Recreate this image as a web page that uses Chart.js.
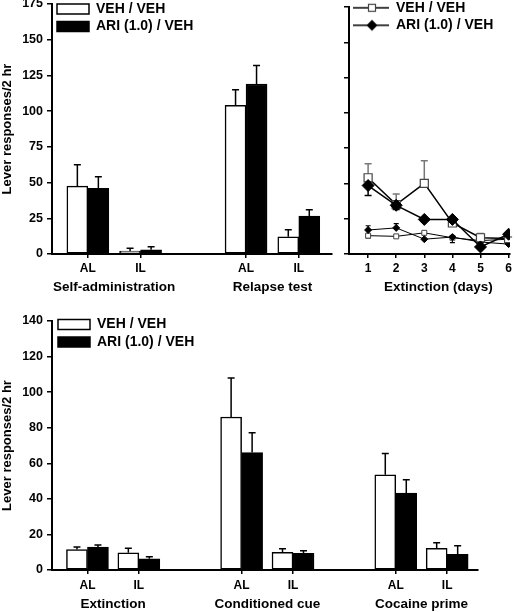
<!DOCTYPE html>
<html>
<head>
<meta charset="utf-8">
<title>Lever responses</title>
<script src="https://cdn.jsdelivr.net/npm/chart.js@4.4.1/dist/chart.umd.min.js"></script>
<style>
  body { margin: 0; background: #fff; }
  #wrap { position: relative; width: 517px; height: 612px; overflow: hidden; }
  canvas { position: absolute; }
</style>
</head>
<body>
<div id="wrap">
  <canvas id="topBars" width="340" height="300" style="left:0;top:0"></canvas>
  <canvas id="extLines" width="182" height="300" style="left:335px;top:0"></canvas>
  <canvas id="bottomBars" width="517" height="312" style="left:0;top:300px"></canvas>
</div>
<script>
// top left: self-administration and relapse test ('' = gap between groups)
const topCats = ['AL', 'IL', '', 'AL', 'IL'];
const topGroups = ['Self-administration', 'Relapse test'];
const topVeh = [47.5, 2, null, 104, 12];
const topVehErr = [15, 2, null, 11, 5];
const topAri = [46, 3, null, 119, 26.5];
const topAriErr = [8, 2, null, 13, 4.5];

// top right: extinction days (negative error = drawn downward)
const days = [1, 2, 3, 4, 5, 6];
const vehAL = [54, 35, 50, 22, 11.5, 11];
const vehALErr = [10, 7.5, 16, 2, 3, 1];
const ariAL = [48.5, 34.5, 24.5, 24.5, 5, 14];
const ariALErr = [-7, -3, 0, 0, 0, 0];
const vehIL = [13, 12.5, 15, 11.5, 9.5, 10.5];
const vehILErr = [-2, 0, 0, 0, 0, 0];
const ariIL = [17, 18.5, 10.5, 12, 8.5, 7];
const ariILErr = [3, 3, 0, -4, 0, 0];

// bottom: reinstatement tests
const botCats = ['AL', 'IL', '', 'AL', 'IL', '', 'AL', 'IL'];
const botGroups = ['Extinction', 'Conditioned cue', 'Cocaine prime'];
const botVeh = [11.5, 9.7, null, 86, 9.9, null, 53.5, 12.2];
const botVehErr = [1.5, 2.5, null, 22, 2, null, 12, 3.1];
const botAri = [12.9, 6.3, null, 66, 9.4, null, 43.2, 8.8];
const botAriErr = [1.2, 1.2, null, 11.2, 1.4, null, 7.5, 4.8];

Chart.defaults.font.family = '"Liberation Sans", Arial, Helvetica, sans-serif';
Chart.defaults.font.weight = 'bold';
Chart.defaults.color = '#000';

function tickPositions(cats) {
    return cats.map((c, i) => c ? i + 1 : null).filter(v => v !== null);
}
function groupCentres(cats) {
    let out = [], run = [];
    cats.concat(['']).forEach((c, i) => {
        if (c) run.push(i + 1);
        else if (run.length) { out.push(run.reduce((a, b) => a + b) / run.length); run = []; }
    });
    return out;
}

// error bars, drawn under the marks
const errorBars = {
    id: 'errorBars',
    beforeDatasetsDraw(chart) {
        const ctx = chart.ctx, ys = chart.scales.y;
        chart.data.datasets.forEach((ds, di) => {
            if (!ds.errors) return;
            const meta = chart.getDatasetMeta(di);
            ctx.save();
            ctx.strokeStyle = ds.errorColor || '#000';
            ctx.lineWidth = ds.errorWidth || 1.5;
            meta.data.forEach((el, i) => {
                const pt = ds.data[i], e = ds.errors[i];
                if (!pt || pt.y == null || !e) return;
                const y0 = ys.getPixelForValue(pt.y);
                const y1 = ys.getPixelForValue(pt.y + e);
                const cap = ds.capWidth || 3.5;
                ctx.beginPath();
                ctx.moveTo(el.x, y0); ctx.lineTo(el.x, y1);
                ctx.moveTo(el.x - cap, y1); ctx.lineTo(el.x + cap, y1);
                ctx.stroke();
            });
            ctx.restore();
        });
    }
};

// legend in the plot area starts at the canvas top, so place it by hand
const legendNudge = {
    id: 'legendNudge',
    afterLayout(chart, args, opts) {
        if (!chart.legend) return;
        chart.legend.top = opts.top;
        chart.legend.left += opts.x || 0;
    }
};

const axisGrid = { drawOnChartArea: false, drawTicks: true, offset: false, color: '#000', lineWidth: 1.5 };
const axisBorder = { display: true, color: '#000', width: 2 };

function barChart(id, cats, groups, veh, vehErr, ari, ariErr, o) {
    const pts = arr => arr.map((v, i) => ({ x: i + 1, y: v }));
    return new Chart(document.getElementById(id), {
        type: 'bar',
        data: {
            datasets: [
                { label: 'VEH / VEH', data: pts(veh), errors: vehErr, xAxisID: 'x',
                  backgroundColor: '#fff', borderColor: '#000', borderWidth: 1.5, borderSkipped: false, barThickness: 21 },
                { label: 'ARI (1.0) / VEH', data: pts(ari), errors: ariErr, xAxisID: 'x',
                  backgroundColor: '#000', borderColor: '#000', borderWidth: 1.5, borderSkipped: false, barThickness: 21 }
            ]
        },
        options: {
            responsive: false,
            animation: false,
            layout: { padding: o.padding },
            plugins: {
                legend: { position: 'chartArea', align: 'start',
                    labels: { boxWidth: 32, boxHeight: 10, padding: 3.5, color: '#000', font: { size: 14, weight: 'bold' } } },
                tooltip: { enabled: false },
                legendNudge: o.nudge
            },
            scales: {
                x: {
                    type: 'linear', offset: false, min: o.xMin, max: o.xMax,
                    afterBuildTicks: s => { s.ticks = tickPositions(cats).map(v => ({ value: v })); },
                    ticks: { callback: v => cats[v - 1], padding: o.tickPad, autoSkip: false, maxRotation: 0,
                             font: { size: 12, weight: 'bold' } },
                    grid: Object.assign({ tickLength: 4 }, axisGrid),
                    border: axisBorder,
                    afterFit: s => { s.height = 20; s.paddingLeft = 0; s.paddingRight = 0; }
                },
                groups: {
                    type: 'linear', offset: false, position: 'bottom', weight: 1, min: o.xMin, max: o.xMax,
                    afterBuildTicks: s => { s.ticks = groupCentres(cats).map(v => ({ value: v })); },
                    ticks: { callback: (v, i) => groups[i], padding: o.groupPad, autoSkip: false, maxRotation: 0,
                             font: { size: 13.5, weight: 'bold' } },
                    grid: { display: false },
                    border: { display: false },
                    afterFit: s => { s.height = o.groupHeight; s.paddingLeft = 0; s.paddingRight = 0; }
                },
                y: {
                    min: 0, max: o.yMax,
                    ticks: { stepSize: o.yStep, padding: 4, font: { size: 12.5, weight: 'bold' } },
                    grid: Object.assign({ tickLength: 5 }, axisGrid),
                    border: axisBorder,
                    title: { display: true, text: 'Lever responses/2 hr', padding: 0, font: { size: 13, weight: 'bold' } },
                    afterFit: s => { s.width = 52; s.paddingTop = 0; s.paddingBottom = 0; }
                }
            }
        },
        plugins: [errorBars, legendNudge]
    });
}

barChart('topBars', topCats, topGroups, topVeh, topVehErr, topAri, topAriErr, {
    padding: { top: 4, left: 0, right: 8, bottom: 0 },
    xMin: 0.32, xMax: 5.63, yMax: 175, yStep: 25,
    tickPad: 3.8, groupPad: -3.1, groupHeight: 26,
    nudge: { x: 1.5, top: -1.5 }
});

barChart('bottomBars', botCats, botGroups, botVeh, botVehErr, botAri, botAriErr, {
    padding: { top: 21, left: 0, right: 39, bottom: 0 },
    xMin: 0.31, xMax: 8.6, yMax: 140, yStep: 20,
    tickPad: 4.8, groupPad: -1.6, groupHeight: 22,
    nudge: { x: 2.5, top: 14 }
});

// legend icons: line through the marker
function makeIcon(shape) {
    const c = document.createElement('canvas');
    c.width = 36; c.height = 14;
    const g = c.getContext('2d');
    g.strokeStyle = '#000'; g.lineWidth = 1.5;
    g.beginPath(); g.moveTo(0, 7); g.lineTo(36, 7); g.stroke();
    if (shape === 'square') {
        g.fillStyle = '#fff'; g.fillRect(15.5, 3.5, 7, 7);
        g.strokeStyle = '#444'; g.lineWidth = 1.2; g.strokeRect(15.5, 3.5, 7, 7);
    } else {
        g.fillStyle = '#000';
        g.beginPath(); g.moveTo(19, 1.5); g.lineTo(24.5, 7); g.lineTo(19, 12.5); g.lineTo(13.5, 7); g.closePath(); g.fill();
    }
    return c;
}
const legendIcons = [makeIcon('square'), makeIcon('diamond')];

const linePts = arr => days.map((d, i) => ({ x: d, y: arr[i] }));
new Chart(document.getElementById('extLines'), {
    type: 'line',
    data: {
        datasets: [
            { label: 'VEH / VEH', data: linePts(vehAL), errors: vehALErr, errorColor: '#777', order: 1,
              borderColor: '#000', borderWidth: 1.5, pointStyle: 'rect', pointRadius: 5.7,
              pointBackgroundColor: '#fff', pointBorderColor: '#444', pointBorderWidth: 1.2 },
            { label: 'ARI (1.0) / VEH', data: linePts(ariAL), errors: ariALErr, order: 0,
              borderColor: '#000', borderWidth: 1.5, pointStyle: 'rectRot', pointRadius: 6,
              pointBackgroundColor: '#000', pointBorderColor: '#000', pointBorderWidth: 1 },
            { label: 'VEH / VEH IL', data: linePts(vehIL), errors: vehILErr, errorColor: '#777', errorWidth: 1.2, capWidth: 2.5, order: 3,
              borderColor: '#000', borderWidth: 1, pointStyle: 'rect', pointRadius: 3.5,
              pointBackgroundColor: '#fff', pointBorderColor: '#444', pointBorderWidth: 1 },
            { label: 'ARI (1.0) / VEH IL', data: linePts(ariIL), errors: ariILErr, errorWidth: 1.2, capWidth: 2.5, order: 2,
              borderColor: '#000', borderWidth: 1, pointStyle: 'rectRot', pointRadius: 3.5,
              pointBackgroundColor: '#000', pointBorderColor: '#000', pointBorderWidth: 1 }
        ]
    },
    options: {
        responsive: false,
        animation: false,
        elements: { line: { tension: 0 } },
        layout: { padding: { top: 4, left: 0, right: 5, bottom: 0 } },
        plugins: {
            legend: {
                position: 'chartArea', align: 'start',
                labels: {
                    usePointStyle: true, pointStyleWidth: 36, padding: 3.5, color: '#000',
                    font: { size: 14, weight: 'bold' },
                    filter: item => item.datasetIndex < 2,
                    sort: (a, b) => a.datasetIndex - b.datasetIndex,
                    generateLabels(chart) {
                        const items = Chart.defaults.plugins.legend.labels.generateLabels(chart);
                        items.forEach(it => { if (legendIcons[it.datasetIndex]) it.pointStyle = legendIcons[it.datasetIndex]; });
                        return items;
                    }
                }
            },
            tooltip: { enabled: false },
            legendNudge: { x: 0.5, top: -2.7 }
        },
        scales: {
            x: {
                type: 'linear', offset: false, min: 0.32, max: 6.05,
                afterBuildTicks: s => { s.ticks = days.map(v => ({ value: v })); },
                ticks: { padding: 3.8, autoSkip: false, maxRotation: 0, font: { size: 12, weight: 'bold' } },
                grid: Object.assign({ tickLength: 4 }, axisGrid),
                border: axisBorder,
                afterFit: s => { s.height = 20; s.paddingLeft = 0; s.paddingRight = 0; }
            },
            groups: {
                type: 'linear', offset: false, position: 'bottom', weight: 1, min: 0.32, max: 6.05,
                afterBuildTicks: s => { s.ticks = [{ value: (days[0] + days[days.length - 1]) / 2 }]; },
                ticks: { callback: () => 'Extinction (days)', padding: -3.1, autoSkip: false, maxRotation: 0,
                         font: { size: 13.5, weight: 'bold' } },
                grid: { display: false },
                border: { display: false },
                afterFit: s => { s.height = 26; s.paddingLeft = 0; s.paddingRight = 0; }
            },
            y: {
                min: 0, max: 175,
                ticks: { stepSize: 25, display: false },
                grid: Object.assign({ tickLength: 5 }, axisGrid),
                border: axisBorder,
                afterFit: s => { s.width = 14; s.paddingTop = 0; s.paddingBottom = 0; }
            }
        }
    },
    plugins: [errorBars, legendNudge]
});
</script>
</body>
</html>
